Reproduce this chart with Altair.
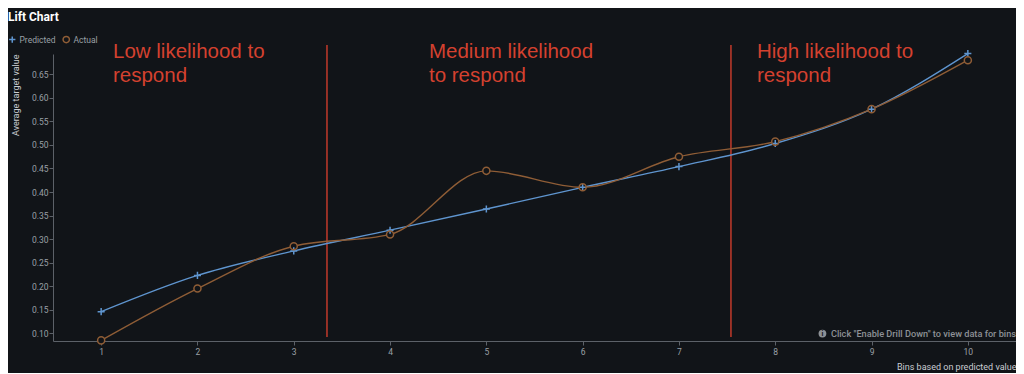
import altair as alt
import pandas as pd

# ---- data ----
bins = [1, 2, 3, 4, 5, 6, 7, 8, 9, 10]
predicted = [0.146, 0.223, 0.275, 0.319, 0.364, 0.410, 0.454, 0.503, 0.576, 0.694]
actual = [0.085, 0.195, 0.285, 0.310, 0.445, 0.410, 0.475, 0.507, 0.576, 0.680]
series_names = ["Predicted", "Actual"]
y_ticks = [0.10, 0.15, 0.20, 0.25, 0.30, 0.35, 0.40, 0.45, 0.50, 0.55, 0.60, 0.65]

region_labels = ["Low likelihood to\nrespond", "Medium likelihood\nto respond", "High likelihood to\nrespond"]
region_x = [1.123, 4.404, 7.81]
region_y = [0.684, 0.684, 0.684]
split_x = [3.345, 7.54]
split_top = [0.712, 0.712]
split_bottom = [0.092, 0.092]

note_text = ['Click "Enable Drill Down" to view data for bins']
note_x = [10.5]
note_y = [0.0995]
icon_x = [8.49]

# ---- styles ----
BG = "#111418"
BLUE = "#5f95cf"
BROWN = "#8f5d36"
RED = "#d4412f"
AXIS = "#5c6168"
LABEL = "#9aa0a6"

df = pd.DataFrame({
    "bin": bins * 2,
    "value": predicted + actual,
    "series": [series_names[0]] * len(bins) + [series_names[1]] * len(bins),
})

xscale = alt.Scale(domain=[0.5, 10.5], nice=False, zero=False)
yscale = alt.Scale(domain=[0.0837, 0.6931], nice=False, zero=False)

x_axis = alt.Axis(values=bins, format="d", title="Bins based on predicted value",
                  grid=False, domainColor=AXIS, tickColor=AXIS, tickSize=4,
                  labelColor=LABEL, labelFontSize=8.5, labelPadding=2,
                  titleColor="#c9cdd2", titleFontSize=9, titleFontWeight="normal",
                  titleAnchor="end", titleAlign="right", titleBaseline="alphabetic",
                  titleX=963, titleY=28)
y_axis = alt.Axis(values=y_ticks, format=".2f", title="Average target value",
                  grid=False, domainColor=AXIS, tickColor=AXIS, tickSize=4,
                  labelColor=LABEL, labelFontSize=8.5, labelPadding=1,
                  titleColor="#c9cdd2", titleFontSize=9, titleFontWeight="normal",
                  titleAngle=-90, titleAlign="right", titleBaseline="middle",
                  titleX=-38, titleY=0)

X = alt.X("bin:Q", scale=xscale, axis=x_axis)
Y = alt.Y("value:Q", scale=yscale, axis=y_axis)

color_scale = alt.Scale(domain=series_names, range=[BLUE, BROWN])
shape_scale = alt.Scale(domain=series_names, range=["M-1,0L1,0M0,-1L0,1", "circle"])
legend = alt.Legend(orient="none", legendX=-45, legendY=-19, direction="horizontal",
                    labelColor=LABEL, labelFontSize=8.5,
                    symbolSize=40, symbolStrokeWidth=1.5,
                    labelOffset=3, columnPadding=4, padding=0)

lines = alt.Chart(df).mark_line(interpolate="monotone", strokeWidth=1.4).encode(
    x=X, y=Y,
    color=alt.Color("series:N", scale=color_scale, legend=legend, title=None),
)

# dark discs so the "Actual" circles look hollow over the line
discs = alt.Chart(df).transform_filter(alt.datum.series == series_names[1]).mark_point(
    filled=True, shape="circle", size=50, color=BG, opacity=1
).encode(x=X, y=Y)

points = alt.Chart(df).mark_point(filled=False, size=50, strokeWidth=1.5, opacity=1).encode(
    x=X, y=Y,
    color=alt.Color("series:N", scale=color_scale, legend=legend, title=None),
    shape=alt.Shape("series:N", scale=shape_scale, legend=legend, title=None),
)

splits_df = pd.DataFrame({"bin": split_x, "value": split_top, "value2": split_bottom})
splits = alt.Chart(splits_df).mark_rule(color="#c23a2b", strokeWidth=1.5).encode(
    x=X, y=Y, y2="value2:Q",
)

regions_df = pd.DataFrame({"bin": region_x, "value": region_y, "label": region_labels})
regions = alt.Chart(regions_df).mark_text(
    align="left", baseline="alphabetic", lineBreak="\n", lineHeight=24,
    font="Liberation Sans", fontSize=20.5, color=RED,
).encode(x=X, y=Y, text="label:N")

note_df = pd.DataFrame({"bin": note_x, "value": note_y, "label": note_text})
note = alt.Chart(note_df).mark_text(
    align="right", baseline="middle", font="Roboto", fontSize=9.2, fontWeight=500, color="#8d9196",
).encode(x=X, y=Y, text="label:N")

icon_df = pd.DataFrame({"bin": icon_x, "value": note_y, "label": ["i"]})
icon_dot = alt.Chart(icon_df).mark_point(filled=True, shape="circle", size=60, color="#8d9196", opacity=1).encode(
    x=X, y=Y,
)
icon_i = alt.Chart(icon_df).mark_text(
    align="center", baseline="middle", font="Roboto", fontSize=7, fontWeight="bold", color=BG,
).encode(x=X, y=Y, text="label:N")

chart = alt.layer(splits, lines, discs, points, regions, note, icon_dot, icon_i).properties(
    width=963,
    height=287,
    title=alt.TitleParams("Lift Chart", anchor="start", frame="group", color="#ffffff",
                          fontSize=12, fontWeight="bold", font="Roboto", dx=-45, offset=11),
    autosize=alt.AutoSizeParams(type="none"),
    padding={"left": 45, "top": 46, "right": 0, "bottom": 32},
).configure(
    background=BG,
    font="Roboto",
).configure_view(stroke=None)

chart.save("out.html", embed_options={"renderer": "svg", "actions": False})
